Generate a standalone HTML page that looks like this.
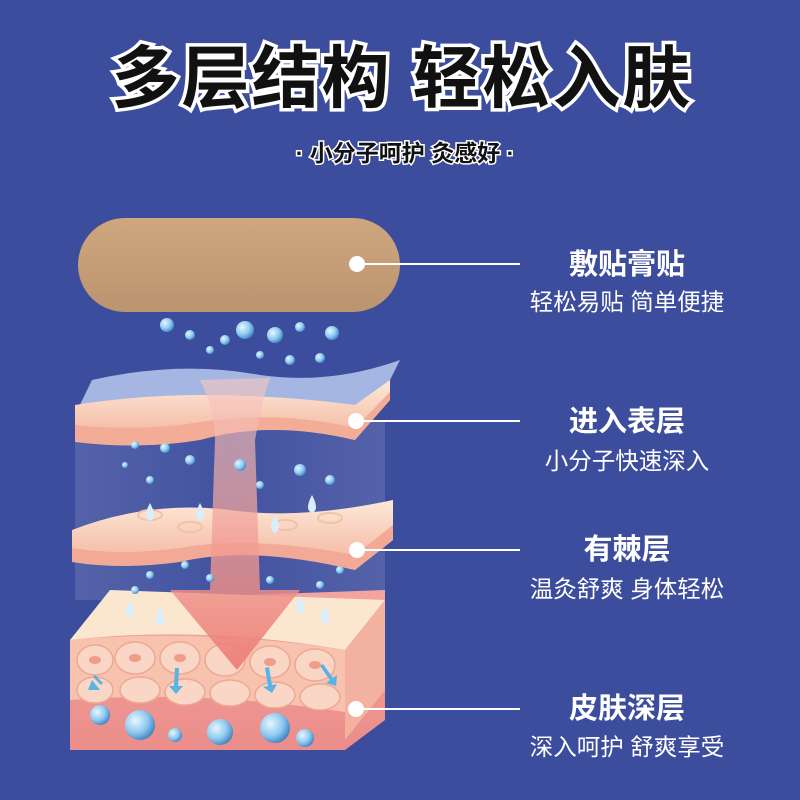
<!DOCTYPE html>
<html><head><meta charset="utf-8"><style>
html,body{margin:0;padding:0;background:#3d4d9d;}
svg{display:block}
text{font-family:"Liberation Sans","Noto Sans CJK SC",sans-serif;}
</style></head><body>
<svg width="800" height="800" viewBox="0 0 800 800" xmlns="http://www.w3.org/2000/svg">
<defs>
<linearGradient id="patch" x1="0" y1="0" x2="0" y2="1"><stop offset="0" stop-color="#cfa77e"/><stop offset="1" stop-color="#bb9470"/></linearGradient>
<linearGradient id="pink" x1="0" y1="0" x2="0" y2="1"><stop offset="0" stop-color="#fde9d8"/><stop offset="1" stop-color="#f3b29c"/></linearGradient>
<linearGradient id="arrow" x1="0" y1="0" x2="0" y2="1"><stop offset="0" stop-color="#f7c9c2" stop-opacity=".6"/><stop offset="1" stop-color="#ec7a72" stop-opacity=".9"/></linearGradient>
<linearGradient id="deep" x1="0" y1="0" x2="0" y2="1"><stop offset="0" stop-color="#f4a5a0"/><stop offset="1" stop-color="#eb8d8a"/></linearGradient>
<radialGradient id="bub" cx=".35" cy=".35" r=".7"><stop offset="0" stop-color="#e8f6ff"/><stop offset=".6" stop-color="#8cc8ee"/><stop offset="1" stop-color="#3d84c4"/></radialGradient>
<linearGradient id="glass" x1="0" y1="0" x2="1" y2="0"><stop offset="0" stop-color="#ffffff" stop-opacity=".12"/><stop offset=".5" stop-color="#ffffff" stop-opacity=".03"/><stop offset="1" stop-color="#ffffff" stop-opacity=".12"/></linearGradient>
</defs>
<rect width="800" height="800" fill="#3d4d9d"/>
<!-- title -->
<text x="402" y="102" font-size="68" font-weight="bold" text-anchor="middle" fill="#111" stroke="#fff" stroke-width="7" paint-order="stroke" letter-spacing="2">多层结构 轻松入肤</text>
<text x="405" y="161" font-size="23" font-weight="bold" text-anchor="middle" fill="#111" stroke="#fff" stroke-width="3" paint-order="stroke">· 小分子呵护 灸感好 ·</text>
<!-- patch -->
<rect x="78" y="218" width="322" height="94" rx="47" fill="url(#patch)"/>
<!-- glass side panels -->
<rect x="75" y="420" width="310" height="180" fill="url(#glass)"/>
<!-- bottom block -->
<path d="M70 640 L110 600 L385 590 L385 720 L345 750 L70 750 Z" fill="url(#deep)"/>
<path d="M70 640 Q200 625 345 650 L385 600 L110 590 Z" fill="#fbe6cf"/>
<path d="M70 640 Q200 628 345 650 L345 712 Q200 690 70 700 Z" fill="#f7c3ae"/>
<path d="M345 650 L385 600 L385 690 L345 740 Z" fill="#f3b19f"/>
<g fill="#f9d6c6" stroke="#eea892" stroke-width="1.5">
<ellipse cx="95" cy="660" rx="18" ry="15"/><ellipse cx="135" cy="658" rx="20" ry="16"/><ellipse cx="180" cy="658" rx="20" ry="16"/><ellipse cx="225" cy="660" rx="20" ry="16"/><ellipse cx="270" cy="662" rx="20" ry="16"/><ellipse cx="315" cy="665" rx="20" ry="16"/>
<ellipse cx="95" cy="690" rx="18" ry="13"/><ellipse cx="140" cy="690" rx="20" ry="13"/><ellipse cx="185" cy="692" rx="20" ry="13"/><ellipse cx="230" cy="693" rx="20" ry="13"/><ellipse cx="275" cy="695" rx="20" ry="13"/><ellipse cx="320" cy="697" rx="20" ry="13"/>
</g>
<g fill="#ef9c88"><ellipse cx="95" cy="660" rx="6" ry="4"/><ellipse cx="135" cy="658" rx="6" ry="4"/><ellipse cx="180" cy="658" rx="6" ry="4"/><ellipse cx="270" cy="662" rx="6" ry="4"/><ellipse cx="315" cy="665" rx="6" ry="4"/></g>
<!-- layer 2 -->
<path d="M72 530 Q150 500 230 510 Q300 520 393 500 L393 540 L355 570 Q250 545 180 560 Q120 568 72 560 Z" fill="url(#pink)"/>
<path d="M72 548 Q120 556 180 548 Q250 535 355 555 L393 525 L393 540 L355 570 Q250 545 180 562 Q120 570 72 562 Z" fill="#f2a995"/>
<g fill="none" stroke="#f0c4a6" stroke-width="2"><ellipse cx="150" cy="515" rx="12" ry="5"/><ellipse cx="190" cy="527" rx="12" ry="5"/><ellipse cx="285" cy="525" rx="12" ry="5"/><ellipse cx="330" cy="518" rx="12" ry="5"/></g>
<!-- layer 1 -->
<path d="M92 380 Q180 360 260 375 Q330 385 400 360 L390 380 L355 415 Q270 400 200 420 Q140 430 75 415 Z" fill="#b9c9ee" opacity=".85"/>
<path d="M75 405 Q140 395 200 395 Q280 395 355 405 L390 380 L390 400 L355 440 Q270 420 200 438 Q140 448 75 440 Z" fill="url(#pink)"/>
<path d="M75 425 Q140 432 200 422 Q280 410 355 428 L390 392 L390 400 L355 440 Q270 420 200 440 Q140 450 75 442 Z" fill="#f3ad97"/>
<!-- arrow -->
<path d="M200 380 Q215 410 215 440 L210 590 L170 590 L237 670 L300 590 L260 590 L255 440 Q262 400 270 378 Z" fill="url(#arrow)"/>
<!-- bubbles -->
<g fill="url(#bub)">
<circle cx="167" cy="325" r="7"/><circle cx="190" cy="335" r="5"/><circle cx="225" cy="340" r="5"/><circle cx="245" cy="330" r="9"/><circle cx="275" cy="335" r="8"/><circle cx="300" cy="327" r="5"/><circle cx="332" cy="333" r="7"/><circle cx="210" cy="350" r="4"/><circle cx="260" cy="355" r="4"/><circle cx="290" cy="360" r="5"/><circle cx="320" cy="358" r="5"/>
<circle cx="135" cy="445" r="4"/><circle cx="165" cy="448" r="5"/><circle cx="190" cy="460" r="5"/><circle cx="240" cy="465" r="6"/><circle cx="300" cy="470" r="6"/><circle cx="330" cy="480" r="5"/><circle cx="150" cy="480" r="4"/><circle cx="125" cy="465" r="3"/><circle cx="260" cy="485" r="4"/>
<circle cx="150" cy="575" r="4"/><circle cx="135" cy="590" r="4"/><circle cx="185" cy="565" r="4"/><circle cx="210" cy="578" r="4"/><circle cx="270" cy="580" r="4"/><circle cx="320" cy="585" r="4"/><circle cx="340" cy="570" r="4"/>
<circle cx="100" cy="715" r="10"/><circle cx="140" cy="725" r="15"/><circle cx="175" cy="735" r="7"/><circle cx="220" cy="732" r="13"/><circle cx="275" cy="728" r="15"/><circle cx="305" cy="738" r="9"/>
</g>
<g fill="#d8eefc"><path d="M150 503 q-8 15 0 18 q8 -3 0 -18z"/><path d="M200 503 q-8 15 0 18 q8 -3 0 -18z"/><path d="M275 515 q-8 15 0 18 q8 -3 0 -18z"/><path d="M312 495 q-8 15 0 18 q8 -3 0 -18z"/>
<path d="M130 600 q-8 15 0 18 q8 -3 0 -18z"/><path d="M160 607 q-8 15 0 18 q8 -3 0 -18z"/><path d="M300 596 q-8 15 0 18 q8 -3 0 -18z"/><path d="M325 606 q-8 15 0 18 q8 -3 0 -18z"/></g>
<g fill="#5ab3e6"><path d="M95 675 l8 8 l-2 2 l-8 -8z M100 690 l-12 0 l4 -10z"/><path d="M175 668 l4 0 l-1 18 l5 0 l-7 8 l-7 -8 l5 0z"/><path d="M265 668 l4 -1 l3 18 l5 -1 l-5 9 l-9 -6 l5 -1z"/><path d="M320 666 l3 -2 l10 14 l4 -3 l-1 11 l-10 -3 l4 -3z"/></g>
<!-- connectors -->
<g stroke="#fff" stroke-width="2"><line x1="357" y1="264" x2="520" y2="264"/><line x1="356" y1="421" x2="520" y2="421"/><line x1="357" y1="550" x2="520" y2="550"/><line x1="356" y1="709" x2="520" y2="709"/></g>
<g fill="#fff"><circle cx="357" cy="264" r="8"/><circle cx="356" cy="421" r="8"/><circle cx="357" cy="550" r="8"/><circle cx="356" cy="709" r="8"/></g>
<!-- labels -->
<g fill="#fff" text-anchor="middle">
<text x="627" y="274" font-size="29" font-weight="bold">敷贴膏贴</text>
<text x="627" y="310" font-size="23.5">轻松易贴 简单便捷</text>
<text x="627" y="431" font-size="29" font-weight="bold">进入表层</text>
<text x="627" y="469" font-size="23.5">小分子快速深入</text>
<text x="627" y="559" font-size="29" font-weight="bold">有棘层</text>
<text x="627" y="597" font-size="23.5">温灸舒爽 身体轻松</text>
<text x="627" y="718" font-size="29" font-weight="bold">皮肤深层</text>
<text x="627" y="755" font-size="23.5">深入呵护 舒爽享受</text>
</g>
</svg>
</body></html>
